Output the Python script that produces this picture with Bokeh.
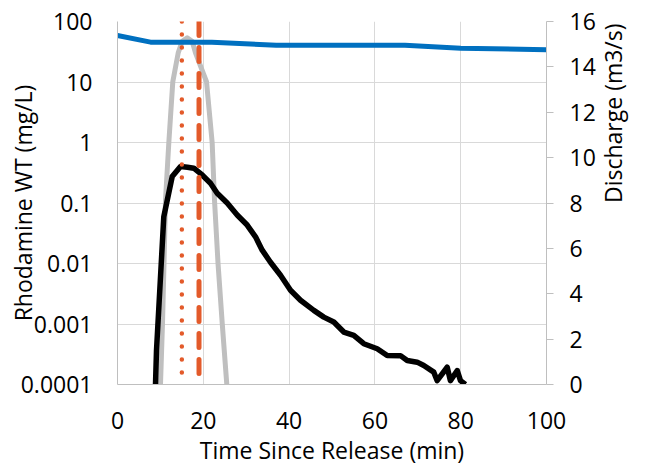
import math
from bokeh.plotting import figure
from bokeh.models import (Range1d, LinearAxis, LinearScale, FixedTicker, CustomJSTickFormatter)
from bokeh.embed import file_html
from bokeh.resources import INLINE

# ---------------- data ----------------
time_obs = [8.86, 9.09, 10.79, 12.75, 14.69, 16.3, 17.79, 19.74, 21.68, 23.24, 25.57,
            27.9, 30.23, 32.17, 33.73, 35.66, 38.0, 40.33, 42.66, 45.76, 48.09,
            50.42, 52.75, 55.08, 57.41, 60.54, 62.87, 65.97, 67.53, 69.86, 71.4,
            73.73, 74.5, 76.85, 77.6, 79.2, 79.95, 81.1]
conc_obs = [1.0e-4, 3.66e-4, 0.0593, 0.273, 0.40, 0.39, 0.376, 0.291, 0.212, 0.145, 0.10,
            0.0632, 0.0432, 0.0276, 0.0166, 0.0105, 0.0064, 0.00361, 0.00247, 0.00168, 0.0013,
            0.00108, 7.36e-4, 6.49e-4, 4.72e-4, 3.9e-4, 3.02e-4, 3.0e-4, 2.49e-4, 2.34e-4, 2.06e-4,
            1.6e-4, 1.16e-4, 1.93e-4, 1.16e-4, 1.7e-4, 1.16e-4, 1.0e-4]

time_model = [10.02, 10.49, 10.84, 11.19, 11.96, 12.89, 14.15, 15.08, 16.25, 17.41,
              18.18, 20.75, 22.07, 22.61, 23.43, 24.41, 25.48]
conc_model = [1.0e-4, 1.03e-3, 0.0101, 0.112, 0.987, 10.1, 30.3, 47.1, 53.7, 47.1,
              30.3, 10.1, 0.987, 0.112, 0.0101, 1.03e-3, 1.0e-4]

time_q = [0, 7.7, 22, 37, 67, 80, 100]
discharge = [15.38, 15.09, 15.09, 14.95, 14.95, 14.82, 14.76]

peak_obs_time = [15, 15]
peak_model_time = [19, 19]
vline_conc = [100, 0.0001]

conc_ticks = [0.0001, 0.001, 0.01, 0.1, 1, 10, 100]
time_ticks = [0, 20, 40, 60, 80, 100]
q_ticks = [0, 2, 4, 6, 8, 10, 12, 14, 16]

FONT = "Open Sans"
FS = "23px"
TXT = "#000000"

p = figure(width=647, height=469, x_range=Range1d(0, 100), y_range=Range1d(1e-4, 100),
           y_axis_type="log", output_backend="svg", toolbar_location=None,
           min_border_left=117, min_border_right=101, min_border_top=21, min_border_bottom=85)
p.outline_line_color = None
p.background_fill_color = "white"
p.extra_y_ranges = {"q": Range1d(0, 16)}
p.extra_y_scales = {"q": LinearScale()}

p.xaxis.ticker = FixedTicker(ticks=time_ticks)
p.yaxis.ticker = FixedTicker(ticks=conc_ticks)
p.yaxis.formatter = CustomJSTickFormatter(code="return tick.toString();")

raxis = LinearAxis(y_range_name="q", ticker=FixedTicker(ticks=q_ticks))
p.add_layout(raxis, "right")

for ax in (p.xaxis[0], p.yaxis[0], raxis):
    ax.axis_line_color = "#BFBFBF"
    ax.axis_line_width = 1
    ax.major_tick_out = 0
    ax.major_tick_in = 0
    ax.minor_tick_out = 0
    ax.minor_tick_in = 0
    ax.major_label_text_font = FONT
    ax.major_label_text_font_size = FS
    ax.major_label_text_color = TXT
    ax.axis_label_text_font = FONT
    ax.axis_label_text_font_size = FS
    ax.axis_label_text_font_style = "normal"
    ax.axis_label_text_color = TXT

p.xaxis.major_label_standoff = 27
p.yaxis.major_label_standoff = 25
p.xaxis.axis_label = "Time Since Release (min)"
p.xaxis.axis_label_standoff = 2
p.yaxis.axis_label = "Rhodamine WT (mg/L)"
p.yaxis.axis_label_standoff = -21

raxis.major_tick_line_color = "#BFBFBF"
raxis.major_tick_out = 7
raxis.major_label_standoff = 16
raxis.axis_label = "Discharge (m3/s)"
raxis.axis_label_standoff = 14
if "axis_label_orientation" in raxis.properties():
    raxis.axis_label_orientation = math.pi / 2

p.xgrid.grid_line_color = "#D9D9D9"
p.ygrid.grid_line_color = "#D9D9D9"

p.line(time_model, conc_model, line_color="#BFBFBF", line_width=5, line_join="round")
p.line(time_obs, conc_obs, line_color="#000000", line_width=5.5, line_join="round")
p.line(time_q, discharge, y_range_name="q", line_color="#0070C0", line_width=5, line_join="round")
p.line(peak_obs_time, vline_conc, line_color="#E35A2A", line_width=4.5,
       line_dash="0 13", line_cap="round")
p.line(peak_model_time, vline_conc, line_color="#E35A2A", line_width=5,
       line_dash="14 12", line_cap="round")

open("out.html", "w").write(file_html(p, INLINE))
